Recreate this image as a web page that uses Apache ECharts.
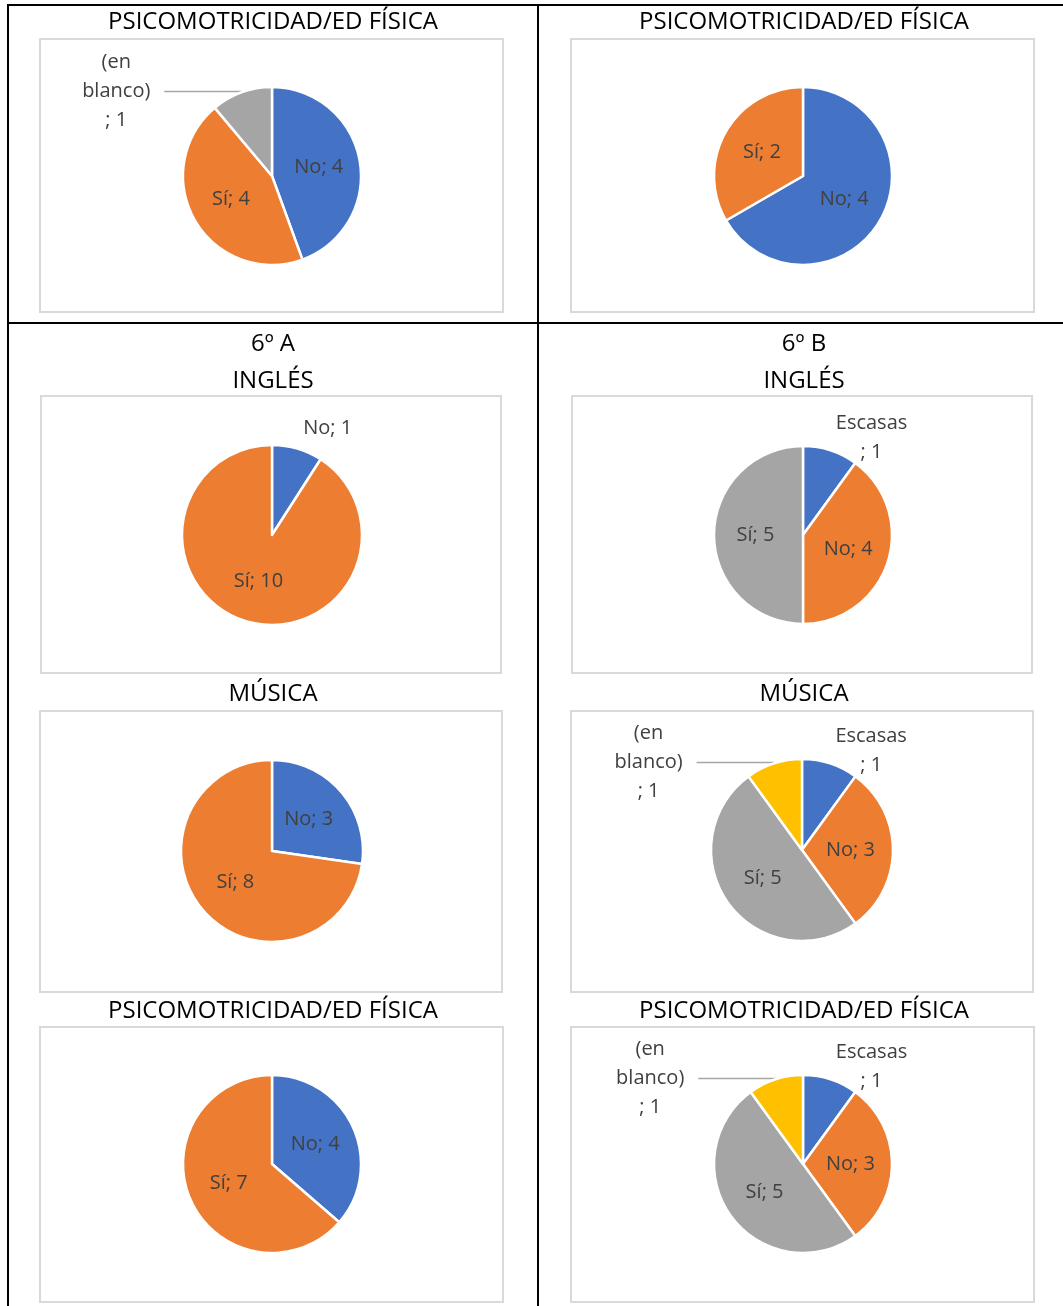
<!DOCTYPE html>
<html>
<head>
<meta charset="utf-8">
<script src="https://cdn.jsdelivr.net/npm/echarts/dist/echarts.min.js"></script>
<style>
  html, body { margin: 0; padding: 0; background: #fff; }
  #chart { width: 1063px; height: 1306px; }
</style>
</head>
<body>
<div id="chart"></div>
<script>
// ---------- data ----------
const titleEdFisica = 'PSICOMOTRICIDAD/ED FÍSICA';
const titleInglesA = '6º A\nINGLÉS';
const titleInglesB = '6º B\nINGLÉS';
const titleMusica = 'MÚSICA';

const catsTopLeft = ['No', 'Sí', '(en blanco)'];
const valsTopLeft = [4, 4, 1];

const catsTopRight = ['No', 'Sí'];
const valsTopRight = [4, 2];

const catsInglesA = ['No', 'Sí'];
const valsInglesA = [1, 10];

const catsInglesB = ['Escasas', 'No', 'Sí'];
const valsInglesB = [1, 4, 5];

const catsMusicaA = ['No', 'Sí'];
const valsMusicaA = [3, 8];

const catsMusicaB = ['Escasas', 'No', 'Sí', '(en blanco)'];
const valsMusicaB = [1, 3, 5, 1];

const catsEdFisicaA = ['No', 'Sí'];
const valsEdFisicaA = [4, 7];

const catsEdFisicaB = ['Escasas', 'No', 'Sí', '(en blanco)'];
const valsEdFisicaB = [1, 3, 5, 1];

// ---------- styles / layout ----------
const FONT = '"Open Sans", "Noto Sans", sans-serif';
const PALETTE = ['#4472C4', '#ED7D31', '#A5A5A5', '#FFC000'];
const LABEL_COLOR = '#404040';

const panels = [
  { title: titleEdFisica, cats: catsTopLeft, vals: valsTopLeft, tx: 273, ty: 22, box: [40, 39, 463, 273], c: [272, 176], r: 89 },
  { title: titleEdFisica, cats: catsTopRight, vals: valsTopRight, tx: 804, ty: 22, box: [571, 39, 463, 273], c: [803, 176], r: 89 },
  { title: titleInglesA, cats: catsInglesA, vals: valsInglesA, tx: 273, ty: 363, box: [41, 396, 460, 277], c: [272, 535], r: 90 },
  { title: titleInglesB, cats: catsInglesB, vals: valsInglesB, tx: 804, ty: 363, box: [572, 396, 460, 277], c: [803, 535], r: 89 },
  { title: titleMusica, cats: catsMusicaA, vals: valsMusicaA, tx: 273, ty: 694, box: [40, 711, 462, 281], c: [272, 851], r: 91 },
  { title: titleMusica, cats: catsMusicaB, vals: valsMusicaB, tx: 804, ty: 694, box: [571, 711, 462, 281], c: [802, 850], r: 91 },
  { title: titleEdFisica, cats: catsEdFisicaA, vals: valsEdFisicaA, tx: 273, ty: 1011, box: [40, 1027, 463, 275], c: [272, 1164], r: 89 },
  { title: titleEdFisica, cats: catsEdFisicaB, vals: valsEdFisicaB, tx: 804, ty: 1011, box: [571, 1027, 463, 275], c: [803, 1164], r: 89 }
];

function buildData(cats, vals) {
  const total = vals.reduce((a, b) => a + b, 0);
  let acc = 0;
  return cats.map((name, i) => {
    const v = vals[i];
    const mid = (acc + v / 2) / total * 2 * Math.PI;
    acc += v;
    const item = { name: name, value: v, itemStyle: { color: PALETTE[i % PALETTE.length] } };
    if (v / total > 0.12) return item;
    // small slice: label outside (Excel best-fit)
    const onLeft = Math.sin(mid) < 0;
    const wrap = name.length > 4;
    const lines = wrap ? name.split(' ').concat(['; ' + v]) : [name + '; ' + v];
    const text = lines.map(s => '{w|' + s + '}').join('\n');
    const w = { fontSize: 20, fontFamily: FONT, color: LABEL_COLOR, lineHeight: 29, align: 'center' };
    if (wrap) w.width = 74;
    item.label = { position: 'outside', formatter: text, distanceToLabelLine: onLeft ? 11 : 0, rich: { w: w } };
    item.labelLine = {
      show: onLeft,
      length: onLeft ? 1 : (wrap ? 13 : 21),
      length2: onLeft ? 77 : 0,
      lineStyle: { color: '#A6A6A6', width: 1.5 }
    };
    return item;
  });
}

const graphics = [];
panels.forEach(p => {
  graphics.push({
    type: 'rect', silent: true, z: 0,
    shape: { x: p.box[0], y: p.box[1], width: p.box[2], height: p.box[3] },
    style: { fill: '#fff', stroke: '#D9D9D9', lineWidth: 2 }
  });
});
// table grid lines
[[7, 5, 1063, 5], [7, 323, 1063, 323], [8, 4, 8, 1306], [538, 4, 538, 1306]].forEach(l => {
  graphics.push({
    type: 'line', silent: true, z: 1,
    shape: { x1: l[0], y1: l[1], x2: l[2], y2: l[3] },
    style: { stroke: '#000', lineWidth: 2 }
  });
});

const option = {
  animation: false,
  backgroundColor: '#fff',
  title: panels.map(p => ({
    text: p.title, left: p.tx, top: p.ty, padding: 0,
    textAlign: 'center', textVerticalAlign: 'middle',
    textStyle: { fontFamily: FONT, fontSize: 24, fontWeight: 'normal', color: '#000', lineHeight: 37 }
  })),
  graphic: { elements: graphics },
  series: panels.map(p => ({
    type: 'pie',
    silent: true,
    center: p.c,
    radius: p.r,
    startAngle: 90,
    clockwise: true,
    avoidLabelOverlap: false,
    itemStyle: { borderColor: '#fff', borderWidth: 2.5 },
    label: {
      show: true, position: 'inside', formatter: '{b}; {c}',
      fontFamily: FONT, fontSize: 20, color: LABEL_COLOR
    },
    labelLine: { show: false },
    emphasis: { disabled: true },
    data: buildData(p.cats, p.vals)
  }))
};

const chart = echarts.init(document.getElementById('chart'), null, { renderer: 'canvas' });
chart.setOption(option);
</script>
</body>
</html>
